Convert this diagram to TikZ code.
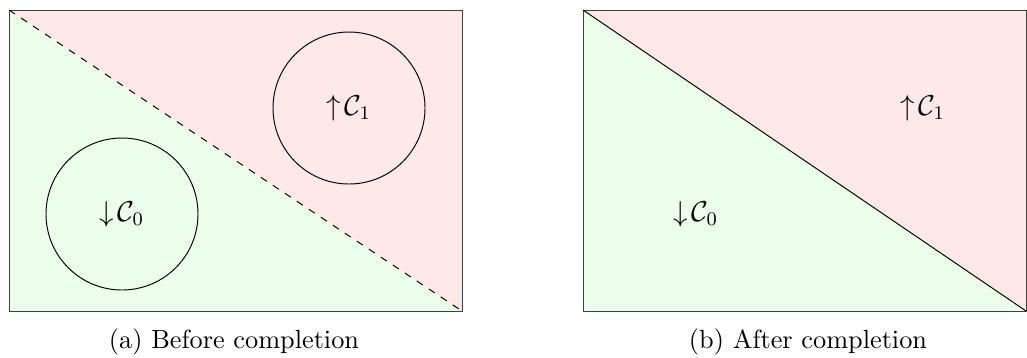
\documentclass[tikz,border=0pt]{standalone}
\usepackage{amsmath,amssymb}
\begin{document}
\begin{tikzpicture}[x=0.4167pt,y=-0.4167pt,
  frame/.style={draw=black!75,line width=0.4pt},
  greenreg/.style={fill=green!8},
  redreg/.style={fill=red!9},
  ball/.style={circle,draw,line width=0.4pt,minimum size=152*0.4167pt,inner sep=0pt},
  lab/.style={inner sep=0pt,font=\large},
  captext/.style={inner sep=0pt,anchor=base,font=\fontsize{10.95}{13.6}\selectfont}]
\useasboundingbox (0,0) rectangle (1027,357);
% left panel
\coordinate (aTL) at (9,10);
\coordinate (aTR) at (462,10);
\coordinate (aBL) at (9,311);
\coordinate (aBR) at (462,311);
\fill[greenreg] (aTL) -- (aBR) -- (aBL) -- cycle;
\fill[redreg] (aTL) -- (aTR) -- (aBR) -- cycle;
\draw[frame] (aTL) rectangle (aBR);
\draw[dashed,line width=0.4pt] (aTL) -- (aBR);
\node[ball] (c0) at (122,214) {};
\node[ball] (c1) at (349,108) {};
\node[lab] (l0) at (c0) {$\downarrow\!\mathcal{C}_0$};
\node[lab] (l1) at (c1) {$\uparrow\!\mathcal{C}_1$};
\node[captext] (capa) at (234,348) {(a) Before completion};
% right panel
\coordinate (bTL) at (583,10);
\coordinate (bTR) at (1026,10);
\coordinate (bBL) at (583,311);
\coordinate (bBR) at (1026,311);
\fill[greenreg] (bTL) -- (bBR) -- (bBL) -- cycle;
\fill[redreg] (bTL) -- (bTR) -- (bBR) -- cycle;
\draw[frame] (bTL) rectangle (bBR);
\draw[line width=0.4pt] (bTL) -- (bBR);
\node[lab] (m0) at (696,214) {$\downarrow\!\mathcal{C}_0$};
\node[lab] (m1) at (923,108) {$\uparrow\!\mathcal{C}_1$};
\node[captext] (capb) at (808,348) {(b) After completion};
\end{tikzpicture}
\end{document}
